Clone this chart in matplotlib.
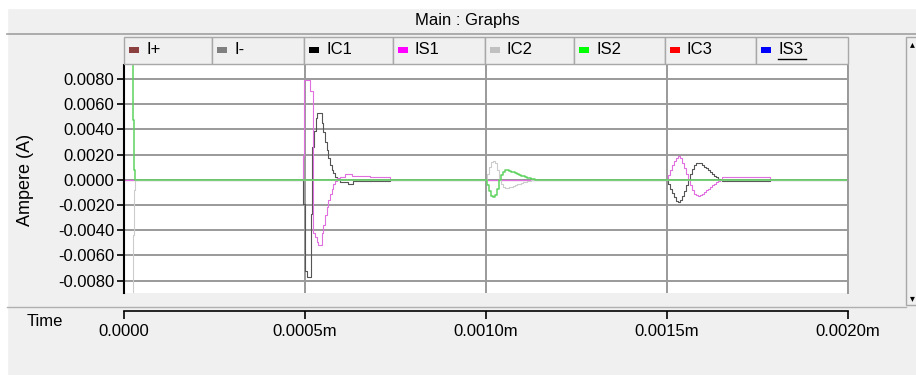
import matplotlib.pyplot as plt
from matplotlib.patches import Rectangle
from matplotlib.lines import Line2D
import numpy as np

plt.rcParams['font.family'] = ['Liberation Sans', 'DejaVu Sans']

W, H = 916, 375  # Bildgröße in Pixel


def fx(x):
    return x / W


def fy(y):
    return 1 - y / H


t_ic1 = [0, 495, 500, 505, 516, 520, 525, 530, 533, 546, 550, 555, 560, 564, 569, 574, 578, 583, 588,
         597, 619, 633, 735,
         1497, 1502, 1508, 1513, 1519, 1524, 1530, 1535, 1541, 1547, 1552, 1558, 1563, 1569, 1574, 1580,
         1585, 1591, 1596, 1602, 1607, 1613, 1618, 1624, 1629, 1635, 1640, 1646, 1652, 1785, 2000]
ic1 = [0, -1.9, -7.2, -7.7, -2.7, 2.6, 3.9, 4.9, 5.3, 4.5, 3.8, 3.0, 2.35, 1.7, 1.15, 0.75, 0.5, 0.2, 0.0,
       -0.17, -0.3, -0.1, 0.0,
       0.0, -0.3, -0.7, -1.05, -1.4, -1.65, -1.75, -1.6, -1.3, -0.9, -0.45, 0.0, 0.45, 0.85, 1.15, 1.3,
       1.35, 1.3, 1.2, 1.05, 0.9, 0.75, 0.6, 0.45, 0.3, 0.18, 0.08, 0.02, -0.1, 0.0, 0.0]

t_is1 = [0, 495, 497, 514, 521, 528, 532, 537, 546, 550, 555, 560, 564, 569, 574, 578, 583, 588,
         597, 610, 629, 680, 735,
         1497, 1502, 1508, 1513, 1519, 1524, 1530, 1535, 1541, 1547, 1552, 1558, 1563, 1569, 1574, 1580,
         1585, 1591, 1596, 1602, 1607, 1613, 1618, 1624, 1629, 1635, 1640, 1646, 1652, 1785, 2000]
is1 = [0, 1.9, 7.9, 7.0, -4.25, -4.5, -4.9, -5.2, -4.25, -3.6, -2.8, -2.15, -1.6, -1.1, -0.7, -0.35, -0.1, 0.17,
       0.22, 0.44, 0.33, 0.22, 0.0,
       0.0, 0.35, 0.75, 1.15, 1.5, 1.75, 1.85, 1.7, 1.35, 0.9, 0.45, 0.0, -0.45, -0.85, -1.1, -1.22,
       -1.25, -1.22, -1.12, -0.98, -0.85, -0.7, -0.55, -0.42, -0.3, -0.18, -0.08, 0.0, 0.22, 0.0, 0.0]

t_ic2 = [22, 24, 27, 31,
         997, 1003, 1008, 1014, 1019, 1025, 1030, 1036, 1041, 1047, 1052, 1058, 1063, 1069, 1074, 1080,
         1085, 1091, 1097, 1102, 1108, 1113, 1119, 1124, 1130, 1135, 2000]
ic2 = [-12.0, -4.4, -0.8, 0.0,
       0.0, 0.45, 1.0, 1.4, 1.5, 1.3, 0.75, 0.0, -0.35, -0.55, -0.62, -0.62, -0.6, -0.55, -0.48, -0.42,
       -0.36, -0.3, -0.25, -0.2, -0.15, -0.12, -0.08, -0.05, -0.02, 0.0, 0.0]

t_is2 = t_ic2
is2 = [12.0, 4.7, 0.8, 0.0,
       0.0, -0.4, -0.9, -1.25, -1.35, -1.2, -0.7, 0.0, 0.4, 0.65, 0.75, 0.75, 0.72, 0.65, 0.58, 0.5,
       0.42, 0.36, 0.3, 0.26, 0.2, 0.15, 0.1, 0.06, 0.03, 0.0, 0.0]

legend_names = ['I+', 'I-', 'IC1', 'IS1', 'IC2', 'IS2', 'IC3', 'IS3']
legend_colors = ['#8b3f3f', '#808080', '#000000', '#ff00ff', '#c0c0c0', '#00ff00', '#ff0000', '#0000ff']

y_ticks = [0.008, 0.006, 0.004, 0.002, 0.0, -0.002, -0.004, -0.006, -0.008]
y_labels = ['0.0080', '0.0060', '0.0040', '0.0020', '0.0000', '-0.0020', '-0.0040', '-0.0060', '-0.0080']
x_ticks = [0.0, 0.0005, 0.001, 0.0015, 0.002]
x_labels = ['0.0000', '0.0005m', '0.0010m', '0.0015m', '0.0020m']

# Kurven: (Zeit, Werte, Farbe, Linienbreite)
traces = [
    (t_ic1, ic1, '#555555', 0.8),
    (t_is1, is1, '#e070e0', 0.8),
    (t_ic2, ic2, '#cccccc', 0.8),
    (t_is2, is2, '#5fd35f', 1.1),
]

fig = plt.figure(figsize=(W / 100, H / 100), dpi=100, facecolor='#f0f0f0')

# weiße Ränder oben/links
fig.patches.append(Rectangle((0, fy(8)), 1, 8 / H, transform=fig.transFigure, color='white', zorder=0))
fig.patches.append(Rectangle((0, 0), fx(7), 1, transform=fig.transFigure, color='white', zorder=0))

# Titelleiste
fig.text(fx(467), fy(20), 'Main : Graphs', ha='center', va='center', fontsize=12)
fig.add_artist(Line2D([fx(7), 1], [fy(34), fy(34)], color='#a0a0a0', lw=1.2))

# Legende als Kopfzellen
cell_edges = [124, 212, 304, 393, 485, 574, 665, 756, 848]
for i, (name, col) in enumerate(zip(legend_names, legend_colors)):
    x0, x1 = cell_edges[i], cell_edges[i + 1]
    fig.patches.append(Rectangle((fx(x0), fy(64)), fx(x1) - fx(x0), 27 / H, transform=fig.transFigure,
                                 facecolor='#f0f0f0', edgecolor='#a8a8a8', lw=1.0))
    fig.patches.append(Rectangle((fx(x0 + 5), fy(53)), 10 / W, 6 / H, transform=fig.transFigure,
                                 facecolor=col, edgecolor='none'))
    fig.text(fx(x0 + 22), fy(50), name, ha='left', va='center', fontsize=12)
    if name == 'IS3':
        fig.add_artist(Line2D([fx(x0 + 22), fx(x0 + 50)], [fy(59), fy(59)], color='black', lw=1.0))

# Hauptdiagramm
ax = fig.add_axes([fx(124), fy(293), fx(848) - fx(124), (293 - 65) / H])
ax.set_facecolor('white')
for tt, vv, col, lw in traces:
    ax.plot(np.array(tt) * 1e-6, np.array(vv) * 1e-3, color=col, lw=lw, drawstyle='steps-post')

ax.set_xlim(0, 0.002)
ax.set_ylim(-0.00898, 0.0091)
ax.set_yticks(y_ticks)
ax.set_yticklabels(y_labels)
ax.set_xticks(x_ticks)
ax.tick_params(axis='x', length=0, labelbottom=False)
ax.tick_params(axis='y', direction='out', length=5, width=1.2, labelsize=12, pad=2)
ax.grid(True, color='#9a9a9a', lw=1.4)
ax.set_axisbelow(True)
ax.spines['top'].set_visible(False)
ax.spines['bottom'].set_visible(False)
ax.spines['right'].set_color('#9a9a9a')
ax.spines['right'].set_linewidth(1.4)
ax.spines['left'].set_linewidth(1.5)

fig.text(fx(26), fy(180), 'Ampere (A)', rotation=90, ha='center', va='center', fontsize=13)

# Trennlinie und Zeitachse
fig.add_artist(Line2D([fx(7), fx(906)], [fy(307), fy(307)], color='#b0b0b0', lw=1.0))
ax_t = fig.add_axes([fx(124), fy(311), fx(848) - fx(124), 0.0001])
ax_t.patch.set_visible(False)
ax_t.set_xlim(0, 0.002)
ax_t.set_xticks(x_ticks)
ax_t.set_xticklabels(x_labels)
ax_t.set_yticks([])
for s in ['top', 'left', 'right']:
    ax_t.spines[s].set_visible(False)
ax_t.spines['bottom'].set_linewidth(1.2)
ax_t.tick_params(axis='x', direction='out', length=6, width=1.2, labelsize=12, pad=3)
fig.text(fx(27), fy(322), 'Time', ha='left', va='center', fontsize=12)

# Scrollleiste rechts
fig.patches.append(Rectangle((fx(906), fy(305)), 12 / W, (305 - 37) / H, transform=fig.transFigure,
                             facecolor='#f0f0f0', edgecolor='#a8a8a8', lw=1.0))
fig.text(fx(912), fy(44), '▴', ha='center', va='center', fontsize=7, family='DejaVu Sans')
fig.text(fx(912), fy(298), '▾', ha='center', va='center', fontsize=7, family='DejaVu Sans')

fig.savefig('out.png', dpi=100, facecolor=fig.get_facecolor())
